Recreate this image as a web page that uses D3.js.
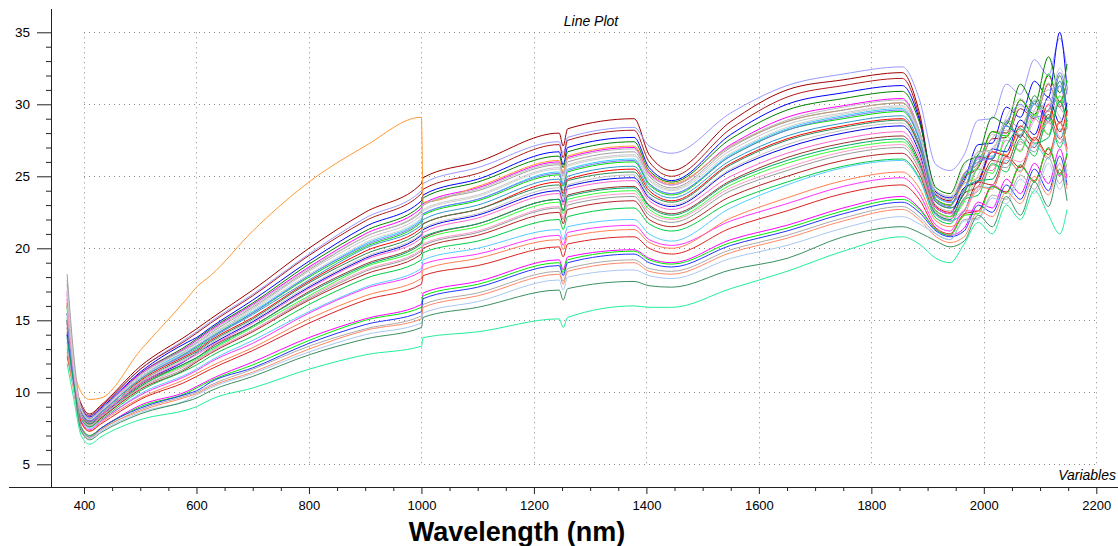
<!DOCTYPE html>
<html lang="en">
  <head>
    <meta charset="UTF-8" />
    <title>Line Plot</title>
    <script src="https://d3js.org/d3.v7.min.js"></script>
    <style>
      body {
        margin: 0;
        background: #fff;
      }
      svg {
        display: block;
        font-family: "Liberation Sans", Arial, sans-serif;
      }
      .grid line {
        stroke: #8a8a8a;
        stroke-dasharray: 1, 4;
      }
      .spectrum {
        fill: none;
        stroke-width: 1px;
      }
    </style>
  </head>
  <body>
    <svg width="1118" height="546"></svg>
    <script>
      const wavelengths = [370, 382, 395, 410, 430, 500, 585, 600, 625, 700, 800, 900, 1000, 1003, 1100, 1245, 1252, 1260, 1378, 1405, 1445, 1550, 1650, 1750, 1855, 1885, 1915, 1940, 1965, 1990, 2015, 2040, 2065, 2090, 2115, 2135, 2148];

      const spectrum01 = [15.0, 11.0, 9.2, 8.5, 9.1, 11.8, 14.0, 14.4, 15.1, 17.1, 20.0, 22.5, 24.5, 24.9, 26.0, 28.0, 27.1, 28.3, 29.0, 26.5, 25.4, 28.8, 31.0, 31.7, 32.2, 29.5, 23.7, 23.3, 25.2, 25.9, 28.1, 28.0, 30.3, 29.3, 32.0, 30.2, 31.6];
      const spectrum02 = [14.0, 10.8, 9.0, 8.4, 9.0, 11.6, 13.8, 14.2, 14.9, 16.8, 19.6, 22.1, 24.0, 24.5, 25.6, 27.4, 26.6, 27.7, 28.4, 27.1, 26.6, 29.4, 31.3, 32.1, 32.6, 30.4, 25.8, 25.4, 26.5, 28.9, 29.0, 31.4, 30.7, 33.1, 32.0, 34.6, 32.4];
      const spectrum03 = [16.0, 11.5, 9.0, 8.4, 9.0, 11.6, 13.7, 14.1, 14.8, 16.7, 19.5, 21.9, 23.8, 24.1, 25.2, 27.2, 26.3, 27.5, 28.2, 26.0, 25.0, 28.3, 30.5, 31.3, 31.8, 29.2, 23.4, 23.0, 24.9, 25.6, 27.6, 27.7, 29.7, 29.0, 31.4, 29.8, 31.0];
      const spectrum04 = [15.0, 11.2, 8.9, 8.3, 8.9, 11.4, 13.5, 13.8, 14.5, 16.4, 19.1, 21.5, 23.3, 23.7, 24.8, 26.7, 25.8, 27.0, 27.7, 25.6, 24.7, 27.9, 30.0, 30.8, 31.3, 29.0, 23.9, 23.5, 24.7, 27.2, 27.3, 29.8, 29.1, 31.6, 30.5, 35.0, 31.0];
      const spectrum05 = [14.5, 11.0, 8.8, 8.2, 8.8, 11.3, 13.3, 13.7, 14.4, 16.2, 18.9, 21.2, 23.0, 23.5, 24.6, 26.4, 25.6, 26.7, 27.4, 25.4, 24.6, 27.6, 29.6, 30.4, 30.9, 28.8, 24.2, 23.8, 25.9, 26.5, 29.1, 28.6, 31.4, 30.0, 33.3, 30.8, 32.8];
      const spectrum06 = [17.0, 11.8, 8.9, 8.2, 8.8, 11.3, 13.2, 13.6, 14.3, 16.1, 18.7, 21.0, 22.8, 23.1, 24.2, 26.0, 25.2, 26.3, 27.0, 25.2, 24.4, 27.2, 29.1, 29.9, 30.4, 28.2, 23.6, 23.2, 24.1, 26.3, 26.2, 28.5, 27.7, 30.0, 28.8, 31.3, 29.2];
      const spectrum07 = [14.0, 11.5, 10.0, 9.5, 9.6, 12.9, 16.6, 17.3, 18.1, 21.2, 24.6, 27.1, 29.1, 23.2, 24.3, 26.1, 25.3, 26.4, 27.1, 25.3, 24.5, 27.1, 28.8, 29.6, 30.1, 28.0, 23.4, 23.0, 24.5, 24.9, 26.7, 26.5, 28.2, 27.5, 29.6, 28.1, 29.3];
      const spectrum08 = [18.2, 12.5, 8.9, 8.2, 8.7, 11.2, 13.1, 13.4, 14.1, 15.9, 18.5, 20.8, 22.5, 23.0, 24.0, 25.8, 25.0, 26.0, 26.7, 25.0, 24.2, 27.0, 28.8, 29.6, 30.1, 28.2, 24.0, 23.6, 24.6, 26.7, 26.8, 28.9, 28.4, 30.3, 29.5, 31.6, 29.8];
      const spectrum09 = [16.5, 11.6, 8.8, 8.1, 8.7, 11.1, 13.0, 13.4, 14.0, 15.8, 18.4, 20.6, 22.3, 22.7, 23.7, 25.6, 24.8, 25.8, 26.5, 24.8, 24.1, 26.8, 28.6, 29.4, 29.9, 28.0, 23.8, 23.4, 25.2, 25.9, 27.9, 27.8, 29.9, 29.1, 31.5, 29.9, 31.1];
      const spectrum10 = [13.5, 10.8, 8.8, 8.1, 8.6, 11.0, 12.9, 13.2, 13.9, 15.6, 18.1, 20.3, 22.0, 22.4, 23.4, 25.3, 24.5, 25.5, 26.2, 24.5, 23.8, 26.5, 28.3, 29.2, 29.7, 27.8, 23.6, 23.2, 24.1, 26.4, 26.4, 28.5, 27.9, 30.0, 29.0, 31.3, 29.4];
      const spectrum11 = [16.0, 11.2, 8.7, 8.0, 8.6, 10.9, 12.8, 13.1, 13.8, 15.5, 18.0, 20.1, 21.8, 22.3, 23.3, 25.1, 24.3, 25.3, 26.0, 24.4, 23.7, 26.4, 28.2, 29.0, 29.5, 27.6, 23.4, 23.0, 25.0, 25.7, 28.1, 27.8, 30.3, 29.2, 32.1, 30.1, 31.7];
      const spectrum12 = [13.0, 10.6, 8.7, 8.0, 8.6, 10.9, 12.7, 13.0, 13.7, 15.4, 17.8, 20.0, 21.6, 22.0, 23.0, 24.8, 24.0, 25.0, 25.7, 24.2, 23.5, 26.1, 27.8, 28.7, 29.2, 27.3, 23.2, 22.8, 23.8, 26.2, 26.2, 28.5, 27.8, 30.2, 29.0, 31.6, 29.4];
      const spectrum13 = [16.2, 11.4, 8.6, 8.0, 8.5, 10.8, 12.6, 12.9, 13.6, 15.2, 17.7, 19.8, 21.4, 21.7, 22.7, 24.6, 23.8, 24.8, 25.5, 24.0, 23.3, 25.9, 27.6, 28.5, 29.0, 27.1, 22.9, 22.5, 24.2, 24.6, 26.7, 26.4, 28.5, 27.5, 30.0, 28.1, 29.6];
      const spectrum14 = [14.0, 10.9, 8.6, 7.9, 8.5, 10.7, 12.5, 12.8, 13.5, 15.1, 17.6, 19.6, 21.2, 21.7, 22.7, 24.4, 23.6, 24.7, 25.3, 23.8, 23.2, 25.8, 27.5, 28.4, 28.9, 27.1, 23.2, 22.8, 23.8, 26.4, 26.2, 28.8, 27.7, 30.6, 29.0, 32.0, 29.5];
      const spectrum15 = [15.5, 11.0, 8.5, 7.9, 8.4, 10.6, 12.3, 12.7, 13.3, 14.9, 17.3, 19.3, 20.9, 21.3, 22.3, 24.0, 23.2, 24.3, 24.9, 23.5, 22.9, 25.4, 27.0, 28.0, 28.5, 26.7, 22.8, 22.4, 24.2, 24.7, 26.9, 26.7, 28.9, 27.9, 30.5, 28.7, 30.1];
      const spectrum16 = [14.5, 10.7, 8.4, 7.8, 8.4, 10.6, 12.3, 12.6, 13.2, 14.8, 17.2, 19.2, 20.7, 21.1, 22.1, 23.8, 23.0, 24.1, 24.7, 23.3, 22.7, 25.0, 26.6, 27.6, 28.1, 26.4, 22.8, 22.4, 23.3, 25.5, 25.4, 27.5, 26.8, 29.0, 27.9, 30.2, 28.3];
      const spectrum17 = [12.5, 10.3, 8.4, 7.8, 8.3, 10.5, 12.1, 12.4, 13.1, 14.6, 17.0, 18.9, 20.4, 20.7, 21.7, 23.4, 22.6, 23.7, 24.3, 23.0, 22.4, 24.7, 26.3, 27.3, 27.8, 26.1, 22.6, 22.2, 23.8, 24.3, 26.1, 25.9, 27.9, 27.0, 29.3, 27.6, 28.9];
      const spectrum18 = [15.8, 11.0, 8.3, 7.7, 8.3, 10.4, 12.0, 12.3, 12.9, 14.5, 16.7, 18.7, 20.1, 20.6, 21.5, 23.2, 22.4, 23.4, 24.0, 22.7, 22.1, 24.4, 25.9, 26.9, 27.4, 25.8, 22.6, 22.2, 23.2, 25.5, 25.2, 27.8, 26.7, 29.3, 27.9, 30.6, 28.3];
      const spectrum19 = [17.5, 12.0, 8.3, 7.7, 8.2, 10.3, 11.8, 12.2, 12.8, 14.3, 16.5, 18.4, 19.8, 20.2, 21.1, 22.8, 22.0, 23.0, 23.6, 22.3, 21.8, 24.0, 25.4, 26.5, 27.0, 25.5, 22.4, 22.0, 23.5, 24.0, 25.8, 25.6, 27.4, 26.7, 28.8, 27.3, 28.5];
      const spectrum20 = [14.8, 10.8, 8.2, 7.6, 8.2, 10.2, 11.7, 12.1, 12.7, 14.2, 16.4, 18.2, 19.6, 20.0, 20.9, 22.5, 21.7, 22.7, 23.3, 22.0, 21.5, 23.6, 25.0, 26.1, 26.6, 25.2, 22.3, 21.9, 22.6, 24.6, 24.4, 26.4, 25.6, 27.7, 26.5, 28.8, 26.9];
      const spectrum21 = [15.2, 11.0, 8.2, 7.6, 8.1, 10.1, 11.6, 11.9, 12.5, 13.9, 16.1, 17.9, 19.2, 19.7, 20.5, 22.0, 21.3, 22.2, 22.8, 21.7, 21.2, 23.2, 24.6, 25.7, 26.2, 24.9, 22.1, 21.7, 23.4, 23.7, 25.9, 25.3, 27.6, 26.4, 29.1, 27.0, 28.7];
      const spectrum22 = [13.8, 10.5, 8.1, 7.5, 8.0, 9.9, 11.3, 11.6, 12.2, 13.6, 15.6, 17.3, 18.6, 19.2, 20.0, 21.3, 20.6, 21.5, 22.0, 21.0, 20.5, 22.8, 24.4, 25.6, 26.1, 24.8, 22.3, 21.9, 22.6, 24.3, 24.2, 26.1, 25.4, 27.2, 26.2, 28.3, 26.5];
      const spectrum23 = [16.8, 11.5, 8.0, 7.4, 8.0, 9.8, 11.2, 11.5, 12.1, 13.4, 15.5, 17.2, 18.4, 18.9, 19.6, 20.9, 20.2, 21.1, 21.6, 20.6, 20.2, 21.9, 23.1, 24.3, 24.9, 23.8, 21.6, 21.2, 22.6, 22.6, 24.4, 23.9, 25.8, 24.6, 27.0, 25.0, 26.6];
      const spectrum24 = [13.2, 10.4, 7.9, 7.3, 7.9, 9.6, 11.0, 11.3, 11.8, 13.1, 15.1, 16.7, 17.9, 18.5, 19.3, 20.6, 19.9, 20.8, 21.3, 20.4, 20.0, 22.1, 23.5, 24.7, 25.3, 24.2, 21.9, 21.5, 22.3, 24.3, 24.1, 26.3, 25.3, 27.6, 26.3, 28.8, 26.7];
      const spectrum25 = [14.2, 10.6, 7.9, 7.3, 7.8, 9.5, 10.8, 11.1, 11.6, 12.9, 14.8, 16.4, 17.5, 18.1, 18.8, 20.1, 19.4, 20.3, 20.8, 20.0, 19.6, 21.4, 22.6, 23.8, 24.4, 23.4, 21.4, 21.0, 22.4, 22.6, 24.3, 23.9, 25.7, 24.7, 26.9, 25.2, 26.5];
      const spectrum26 = [16.5, 11.0, 7.6, 7.0, 7.5, 9.1, 10.1, 10.4, 10.9, 12.1, 13.8, 15.1, 16.1, 16.9, 17.7, 19.2, 18.5, 19.4, 19.9, 19.3, 19.0, 20.6, 21.6, 22.8, 23.6, 22.8, 21.3, 20.9, 21.4, 23.2, 22.8, 24.8, 23.8, 25.9, 24.5, 26.9, 24.9];
      const spectrum27 = [15.0, 10.6, 7.6, 7.0, 7.5, 9.0, 10.0, 10.3, 10.8, 11.9, 13.6, 15.0, 15.9, 16.7, 17.5, 19.0, 18.3, 19.2, 19.8, 19.2, 18.9, 20.4, 21.4, 22.6, 23.4, 22.7, 21.3, 20.9, 22.3, 22.4, 24.3, 23.8, 25.8, 24.6, 27.0, 25.1, 26.6];
      const spectrum28 = [14.0, 10.3, 7.5, 6.9, 7.5, 8.9, 9.9, 10.1, 10.7, 11.7, 13.4, 14.7, 15.6, 16.5, 17.3, 18.8, 18.1, 19.0, 19.6, 19.0, 18.7, 20.2, 21.2, 22.4, 23.2, 22.5, 21.2, 20.8, 21.2, 23.0, 22.5, 24.4, 23.4, 25.5, 24.0, 26.4, 24.4];
      const spectrum29 = [17.8, 11.8, 7.5, 6.9, 7.4, 8.8, 9.8, 10.0, 10.5, 11.6, 13.2, 14.4, 15.3, 16.1, 16.9, 18.4, 17.7, 18.6, 19.2, 18.6, 18.4, 19.9, 20.9, 22.1, 22.9, 22.2, 21.0, 20.6, 22.0, 22.1, 23.7, 23.4, 25.1, 24.1, 26.3, 24.5, 25.9];
      const spectrum30 = [12.8, 10.0, 7.4, 6.8, 7.4, 8.7, 9.7, 9.9, 10.4, 11.4, 13.0, 14.3, 15.1, 15.9, 16.7, 18.2, 17.5, 18.4, 19.0, 18.4, 18.2, 19.7, 20.7, 21.9, 22.7, 22.0, 20.8, 20.4, 20.8, 22.6, 22.2, 23.9, 23.1, 25.0, 23.7, 25.9, 24.1];
      const spectrum31 = [13.5, 10.2, 7.4, 6.8, 7.3, 8.6, 9.5, 9.8, 10.3, 11.3, 12.8, 14.0, 14.8, 15.5, 16.3, 17.8, 17.1, 18.0, 18.5, 18.1, 17.9, 19.3, 20.2, 21.4, 22.2, 21.7, 21.0, 20.6, 21.9, 22.0, 23.5, 23.1, 24.8, 23.8, 25.9, 24.1, 25.5];
      const spectrum32 = [15.5, 10.8, 7.3, 6.7, 7.2, 8.5, 9.4, 9.6, 10.1, 11.1, 12.6, 13.7, 14.5, 15.2, 15.9, 17.1, 16.4, 17.2, 17.7, 17.4, 17.3, 18.5, 19.3, 20.8, 21.5, 21.1, 20.5, 20.1, 20.5, 22.3, 21.5, 23.6, 22.3, 24.6, 22.9, 25.5, 23.3];
      const spectrum33 = [12.0, 9.5, 7.0, 6.4, 6.9, 8.1, 8.8, 9.0, 9.5, 10.3, 11.6, 12.6, 13.2, 13.8, 14.2, 15.1, 14.5, 15.2, 16.0, 15.9, 15.9, 17.2, 18.4, 19.8, 20.8, 20.3, 19.3, 19.0, 20.3, 21.8, 21.0, 23.0, 22.0, 24.0, 22.3, 21.0, 22.7];
      const spectrum34 = [15.5, 11.2, 8.9, 8.2, 8.8, 11.2, 13.1, 13.5, 14.2, 16.0, 18.6, 20.8, 22.6, 23.0, 24.1, 25.9, 25.1, 26.2, 26.9, 25.1, 24.4, 27.1, 28.9, 29.8, 30.3, 28.2, 23.8, 23.4, 24.1, 25.8, 27.7, 28.2, 27.9, 29.6, 31.0, 29.8, 29.0];
      const spectrum35 = [14.8, 11.0, 8.7, 8.0, 8.6, 11.0, 12.8, 13.2, 13.8, 15.5, 18.1, 20.2, 21.9, 22.4, 23.4, 25.2, 24.4, 25.4, 26.1, 24.5, 23.8, 26.4, 28.2, 29.1, 29.6, 27.6, 23.3, 22.9, 25.1, 26.0, 26.3, 28.7, 30.0, 29.1, 29.6, 32.2, 30.7];
      const spectrum36 = [16.8, 11.5, 8.5, 7.9, 8.5, 10.7, 12.4, 12.7, 13.4, 15.0, 17.4, 19.4, 21.0, 21.4, 22.4, 24.2, 23.4, 24.4, 25.1, 23.6, 23.0, 25.5, 27.2, 28.2, 28.7, 26.9, 23.0, 22.6, 23.3, 25.1, 27.0, 27.5, 27.2, 28.9, 30.3, 29.1, 28.3];
      const spectrum37 = [13.8, 10.6, 8.3, 7.8, 8.3, 10.4, 12.1, 12.4, 13.0, 14.6, 16.9, 18.8, 20.3, 20.8, 21.7, 23.4, 22.6, 23.6, 24.2, 22.9, 22.3, 24.6, 26.1, 27.1, 27.6, 25.9, 22.4, 22.0, 24.0, 24.7, 24.8, 27.1, 28.3, 27.3, 27.7, 30.2, 28.8];
      const spectrum38 = [16.0, 11.3, 8.3, 7.7, 8.3, 10.3, 11.9, 12.2, 12.8, 14.3, 16.6, 18.5, 19.9, 20.3, 21.2, 22.9, 22.1, 23.2, 23.8, 22.5, 22.0, 24.2, 25.6, 26.7, 27.2, 25.7, 22.5, 22.1, 22.7, 24.2, 25.8, 26.3, 26.0, 27.5, 28.7, 27.7, 26.9];
      const spectrum39 = [17.2, 11.8, 8.8, 8.1, 8.7, 11.0, 12.9, 13.3, 13.9, 15.7, 18.2, 20.4, 22.1, 22.6, 23.6, 25.5, 24.7, 25.7, 26.4, 24.7, 24.0, 26.6, 28.4, 29.3, 29.8, 27.9, 24.0, 23.6, 25.7, 26.6, 26.8, 29.1, 30.4, 29.5, 29.9, 32.5, 31.0];

      const spectra = [
        spectrum01, spectrum02, spectrum03, spectrum04, spectrum05, spectrum06,
        spectrum07, spectrum08, spectrum09, spectrum10, spectrum11, spectrum12,
        spectrum13, spectrum14, spectrum15, spectrum16, spectrum17, spectrum18,
        spectrum19, spectrum20, spectrum21, spectrum22, spectrum23, spectrum24,
        spectrum25, spectrum26, spectrum27, spectrum28, spectrum29, spectrum30,
        spectrum31, spectrum32, spectrum33, spectrum34, spectrum35, spectrum36,
        spectrum37, spectrum38, spectrum39,
      ];

      const lineColors = [
        "#a00000", "#9999ff", "#b01818", "#0000ff", "#008000", "#ff00ff",
        "#ff9933", "#a0a0a0", "#c8c8c8", "#33ccff", "#00dd00", "#3399cc",
        "#ff0000", "#2e8b57", "#0000ee", "#ff66cc", "#993333", "#33ff33",
        "#999999", "#b22222", "#00cc44", "#55ccff", "#ff33ff", "#ff7f50",
        "#dd2222", "#ff00ff", "#00ee00", "#2233ff", "#aaaaaa", "#ff8866",
        "#aac8f0", "#3a8f5f", "#22ee99", "#bbbbbb", "#7777ff", "#c0c0c0",
        "#00aa66", "#ff99cc", "#d0d0d0",
      ];

      const xTickValues = [400, 600, 800, 1000, 1200, 1400, 1600, 1800, 2000, 2200];
      const yTickValues = [5, 10, 15, 20, 25, 30, 35];

      const svg = d3.select("svg");

      const X = d3.scaleLinear().domain([400, 2200]).range([84, 1096.3]);
      const Y = d3.scaleLinear().domain([5, 35]).range([464.3, 32.3]);

      const AXIS_X = 51;
      const AXIS_Y = 487;

      // dotted grid
      const grid = svg.append("g").attr("class", "grid");
      grid
        .selectAll(".h")
        .data(yTickValues)
        .enter()
        .append("line")
        .attr("x1", X(400))
        .attr("x2", X(2200))
        .attr("y1", (d) => Math.round(Y(d)) + 0.5)
        .attr("y2", (d) => Math.round(Y(d)) + 0.5);
      grid
        .selectAll(".v")
        .data(xTickValues)
        .enter()
        .append("line")
        .attr("x1", (d) => Math.round(X(d)) + 0.5)
        .attr("x2", (d) => Math.round(X(d)) + 0.5)
        .attr("y1", Y(35))
        .attr("y2", Y(5));

      // spectra
      const line = d3
        .line()
        .x((d, i) => X(wavelengths[i]))
        .y((d) => Y(d))
        .curve(d3.curveMonotoneX);

      svg
        .append("g")
        .selectAll("path")
        .data(spectra)
        .enter()
        .append("path")
        .attr("class", "spectrum")
        .attr("stroke", (d, i) => lineColors[i])
        .attr("d", line);

      // x axis
      const xMinor = d3.range(450, 2200, 50).filter((v) => v % 200 !== 0);

      const xAxisG = svg
        .append("g")
        .attr("transform", `translate(0, ${AXIS_Y})`)
        .call(
          d3.axisBottom(X).tickValues(xTickValues).tickFormat(d3.format("d")).tickSize(7).tickPadding(7)
        );
      xAxisG.select(".domain").remove();
      xAxisG
        .selectAll("text")
        .attr("font-family", "Liberation Sans, Arial, sans-serif")
        .attr("font-size", 13)
        .attr("fill", "#000");

      const xMinorG = svg
        .append("g")
        .attr("transform", `translate(0, ${AXIS_Y})`)
        .call(d3.axisBottom(X).tickValues(xMinor).tickSize(4).tickFormat(""));
      xMinorG.select(".domain").remove();

      svg
        .append("line")
        .attr("x1", 9)
        .attr("x2", 1118)
        .attr("y1", AXIS_Y + 0.5)
        .attr("y2", AXIS_Y + 0.5)
        .attr("stroke", "#222");

      // y axis
      const yMinor = d3.range(5, 36, 1).filter((v) => v % 5 !== 0);

      const yAxisG = svg
        .append("g")
        .attr("transform", `translate(${AXIS_X}, 0)`)
        .call(d3.axisLeft(Y).tickValues(yTickValues).tickSize(14).tickPadding(7));
      yAxisG.select(".domain").remove();
      yAxisG
        .selectAll("text")
        .attr("font-family", "Liberation Sans, Arial, sans-serif")
        .attr("font-size", 13.5)
        .attr("fill", "#000");

      const yMinorG = svg
        .append("g")
        .attr("transform", `translate(${AXIS_X}, 0)`)
        .call(d3.axisLeft(Y).tickValues(yMinor).tickSize(5).tickFormat(""));
      yMinorG.select(".domain").remove();

      svg
        .append("line")
        .attr("x1", AXIS_X + 0.5)
        .attr("x2", AXIS_X + 0.5)
        .attr("y1", 9)
        .attr("y2", AXIS_Y)
        .attr("stroke", "#222");

      svg.selectAll(".tick line").attr("stroke", "#222");

      // titles
      svg
        .append("text")
        .attr("x", 591)
        .attr("y", 26)
        .attr("text-anchor", "middle")
        .attr("font-style", "italic")
        .attr("font-size", 14)
        .text("Line Plot");

      svg
        .append("text")
        .attr("x", 1116)
        .attr("y", 480)
        .attr("text-anchor", "end")
        .attr("font-style", "italic")
        .attr("font-size", 14)
        .text("Variables");

      svg
        .append("text")
        .attr("x", 517)
        .attr("y", 541)
        .attr("text-anchor", "middle")
        .attr("font-weight", "bold")
        .attr("font-size", 27)
        .text("Wavelength (nm)");
    </script>
  </body>
</html>
